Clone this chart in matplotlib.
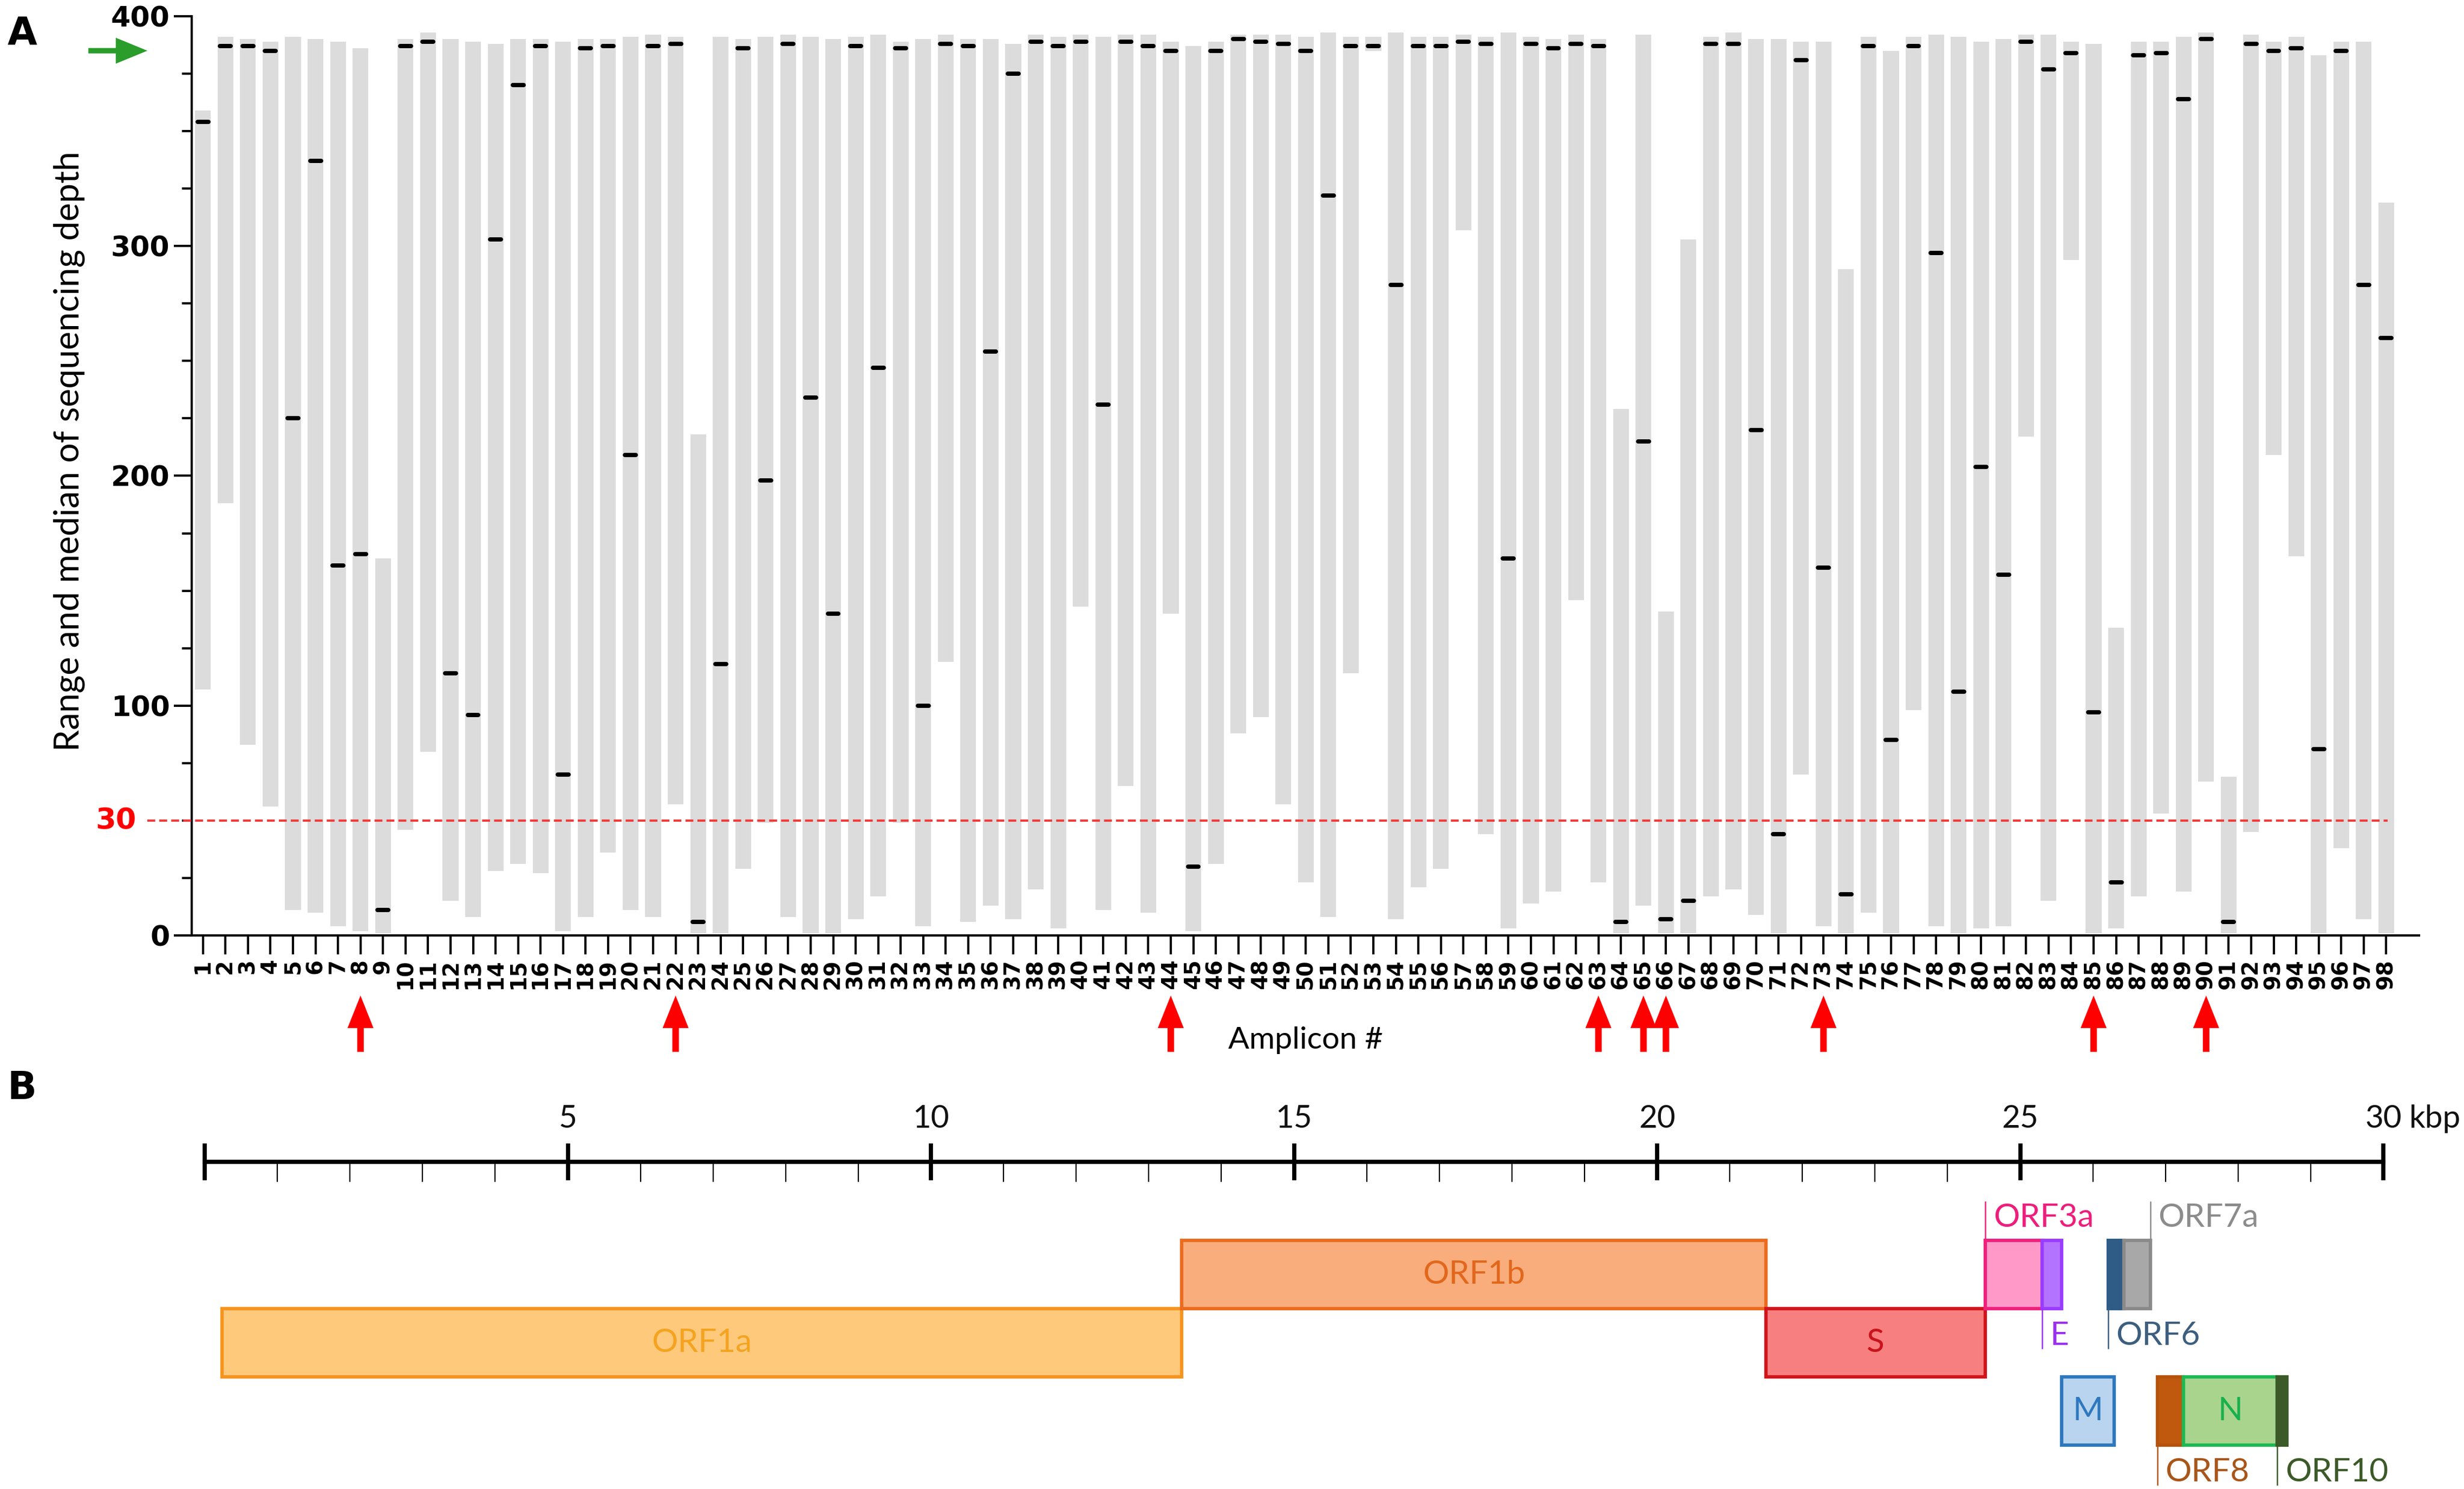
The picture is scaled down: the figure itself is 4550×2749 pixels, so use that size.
import matplotlib
matplotlib.use("Agg")
import matplotlib.pyplot as plt
from matplotlib.ticker import MultipleLocator

plt.rcParams["font.family"] = ["Lato", "DejaVu Sans"]

# ---- panel A data: sequencing depth per amplicon (range + median) ----
amplicons = list(range(1, 99))
depth_max = [359, 391, 390, 389, 391, 390, 389, 386, 164, 390,
             393, 390, 389, 388, 390, 390, 389, 390, 390, 391,
             392, 391, 218, 391, 390, 391, 392, 391, 390, 391,
             392, 389, 390, 392, 390, 390, 388, 392, 391, 392,
             391, 392, 392, 389, 387, 389, 392, 392, 392, 391,
             393, 391, 391, 393, 391, 391, 392, 391, 393, 391,
             390, 392, 390, 229, 392, 141, 303, 391, 393, 390,
             390, 389, 389, 290, 391, 385, 391, 392, 391, 389,
             390, 392, 392, 389, 388, 134, 389, 389, 391, 393,
             69, 392, 389, 391, 383, 389, 389, 319]
depth_min = [107, 188, 83, 56, 11, 10, 4, 2, 1, 46,
             80, 15, 8, 28, 31, 27, 2, 8, 36, 11,
             8, 57, 1, 1, 29, 49, 8, 1, 1, 7,
             17, 49, 4, 119, 6, 13, 7, 20, 3, 143,
             11, 65, 10, 140, 2, 31, 88, 95, 57, 23,
             8, 114, 385, 7, 21, 29, 307, 44, 3, 14,
             19, 146, 23, 1, 13, 1, 1, 17, 20, 9,
             1, 70, 4, 1, 10, 1, 98, 4, 1, 3,
             4, 217, 15, 294, 1, 3, 17, 53, 19, 67,
             1, 45, 209, 165, 1, 38, 7, 1]
depth_median = [354, 387, 387, 385, 225, 337, 161, 166, 11, 387,
                389, 114, 96, 303, 370, 387, 70, 386, 387, 209,
                387, 388, 6, 118, 386, 198, 388, 234, 140, 387,
                247, 386, 100, 388, 387, 254, 375, 389, 387, 389,
                231, 389, 387, 385, 30, 385, 390, 389, 388, 385,
                322, 387, 387, 283, 387, 387, 389, 388, 164, 388,
                386, 388, 387, 6, 215, 7, 15, 388, 388, 220,
                44, 381, 160, 18, 387, 85, 387, 297, 106, 204,
                157, 389, 377, 384, 97, 23, 383, 384, 364, 390,
                6, 388, 385, 386, 81, 385, 283, 260]
flagged_amplicons = [8, 22, 44, 63, 65, 66, 73, 85, 90]
cutoff_pos = 50
cutoff_label = "30"
full_depth = 385

# ---- panel B data: SARS-CoV-2 genome map (kbp) ----
genes = ["ORF1a", "ORF1b", "S", "ORF3a", "E", "ORF6", "ORF7a", "M", "ORF8", "N", "ORF10"]
gene_start = [0.24, 13.45, 21.5, 24.52, 25.3, 26.21, 26.43, 25.57, 26.89, 27.25, 28.54]
gene_end = [13.45, 21.5, 24.52, 25.3, 25.57, 26.43, 26.79, 26.29, 27.25, 28.54, 28.67]
gene_row = [1, 0, 1, 0, 0, 0, 0, 2, 2, 2, 2]
kbp_ticks = [0, 5, 10, 15, 20, 25, 30]
kbp_labels = ["", "5", "10", "15", "20", "25", "30"]

# fill, edge, text colour
gene_colors = {
    "ORF1a": ("#FFC97C", "#F7941D", "#F5A31F"),
    "ORF1b": ("#F9AD7C", "#EC6B1E", "#E2671C"),
    "S": ("#F77F7F", "#D2141C", "#C8141C"),
    "ORF3a": ("#FF9AC8", "#F0207E", "#EE1E7C"),
    "E": ("#B473FF", "#9A3CFF", "#9A30F0"),
    "ORF6": ("#2E5C86", "#2E5C86", "#3D5E7E"),
    "ORF7a": ("#A8A8A8", "#8A8A8A", "#8C8C8C"),
    "M": ("#B9D4EE", "#2E78BE", "#2E78BE"),
    "ORF8": ("#C0590E", "#B5530C", "#A8561A"),
    "N": ("#A8D48E", "#1DB954", "#17B04C"),
    "ORF10": ("#3C5A28", "#3C5A28", "#3C5A28"),
}
# where the small genes get their label: (above/below, which edge the leader line sits on)
outside_labels = {"ORF3a": ("up", "left"), "ORF7a": ("up", "right"),
                  "E": ("down", "left"), "ORF6": ("down", "left"),
                  "ORF8": ("down", "left"), "ORF10": ("down", "left")}

fig = plt.figure(figsize=(4550 / 300, 2749 / 300), dpi=300)

# ================= panel A =================
ax = fig.add_axes([0.0778, 0.37177, 0.90396, 0.61732])
heights = [hi - lo for hi, lo in zip(depth_max, depth_min)]
ax.bar(amplicons, heights, bottom=depth_min, width=0.7, color="#DCDCDC", linewidth=0)
ax.hlines(depth_median, [a - 0.24 for a in amplicons], [a + 0.24 for a in amplicons],
          colors="black", linewidth=1.9, capstyle="round", zorder=3)

ax.set_xlim(0.5, 99.46)
ax.set_ylim(0, 400)
ax.spines["top"].set_visible(False)
ax.spines["right"].set_visible(False)
ax.spines["left"].set_linewidth(1.0)
ax.spines["bottom"].set_linewidth(1.0)

ax.set_xticks(amplicons)
ax.set_xticklabels([str(a) for a in amplicons], rotation=90, fontsize=9.6,
                   fontweight="bold", family="DejaVu Sans")
ax.yaxis.set_major_locator(MultipleLocator(100))
ax.yaxis.set_minor_locator(MultipleLocator(25))
for lab in ax.get_yticklabels():
    lab.set_fontweight("bold")
    lab.set_family("DejaVu Sans")
    lab.set_fontsize(12.5)
ax.tick_params(axis="x", length=8.4, width=1.0, pad=2)
ax.tick_params(axis="y", which="major", length=8, width=1.0, pad=1.7)
ax.tick_params(axis="y", which="minor", length=4.3, width=1.0)

ax.set_ylabel("Range and median of sequencing depth", fontsize=15.4)
ax.yaxis.set_label_coords(-0.0479, 0.527)
ax.set_xlabel("Amplicon #", fontsize=13.8)
ax.xaxis.set_label_coords(0.5, -0.099)

# threshold line
ax.plot([-0.0199, 0.9859], [cutoff_pos, cutoff_pos], transform=ax.get_yaxis_transform(),
        color="#F03C3C", linewidth=1.0, linestyle=(0, (3.5, 1.8)), clip_on=False, zorder=4)
ax.text(-0.0248, cutoff_pos, cutoff_label, transform=ax.get_yaxis_transform(),
        ha="right", va="center", color="red", fontsize=13, fontweight="bold",
        family="DejaVu Sans")

# red arrows under flagged amplicons
for a in flagged_amplicons:
    ax.annotate("", xy=(a, -0.0654), xytext=(a, -0.1267),
                xycoords=("data", "axes fraction"), textcoords=("data", "axes fraction"),
                arrowprops=dict(facecolor="red", edgecolor="none", width=2.9,
                                headwidth=11.5, headlength=14.4, shrink=0),
                annotation_clip=False)

# green arrow at full depth
ax.annotate("", xy=(-0.0199, full_depth), xytext=(-0.0464, full_depth),
            xycoords=("axes fraction", "data"), textcoords=("axes fraction", "data"),
            arrowprops=dict(facecolor="#2A9D2A", edgecolor="none", width=2.4,
                            headwidth=11.5, headlength=14, shrink=0),
            annotation_clip=False)

fig.text(0.003, 0.9895, "A", fontsize=17, fontweight="bold", family="DejaVu Sans",
         ha="left", va="top")

# ================= panel B =================
axb = fig.add_axes([0.08308, 0.0, 0.88418, 0.27974])
axb.set_xlim(0, 30)
axb.set_ylim(3.643, -2.46)
scale_y = -1.151
for side in ["left", "right", "bottom"]:
    axb.spines[side].set_visible(False)
axb.spines["top"].set_position(("data", scale_y))
axb.spines["top"].set_linewidth(1.85)
axb.xaxis.set_ticks_position("top")
axb.set_yticks([])
axb.set_xticks(kbp_ticks)
axb.set_xticklabels(kbp_labels)
axb.xaxis.set_minor_locator(MultipleLocator(1))
axb.tick_params(axis="x", which="major", direction="inout", length=16.3, width=1.85,
                pad=4.5, labelsize=14, labelcolor="#111111")
axb.tick_params(axis="x", which="minor", direction="in", length=8.9, width=0.55)
axb.annotate("kbp", xy=(30, scale_y), xytext=(11.5, 8.15 + 4.5), textcoords="offset points",
             ha="left", va="bottom", fontsize=14, color="#111111")

for name, s, e, r in zip(genes, gene_start, gene_end, gene_row):
    fill, edge, tcol = gene_colors[name]
    axb.barh(r + 0.5, e - s, left=s, height=1.0, color=fill, edgecolor=edge, linewidth=1.5)
    if name in outside_labels:
        where, edge_side = outside_labels[name]
        lx = s if edge_side == "left" else e
        if where == "up":
            y0, y1, ty = r, r - 0.56, r - 0.33
        else:
            y0, y1, ty = r + 1, r + 1.58, r + 1.40
        axb.plot([lx, lx], [y0, y1], color=tcol, linewidth=0.6)
        axb.annotate(name, xy=(lx, ty), xytext=(3.5, 0), textcoords="offset points",
                     ha="left", va="center", fontsize=14.5, color=tcol)
    else:
        axb.text((s + e) / 2, r + 0.5, name, ha="center", va="center",
                 fontsize=14.5, color=tcol)

fig.text(0.003, 0.2815, "B", fontsize=17, fontweight="bold", family="DejaVu Sans",
         ha="left", va="top")

fig.savefig("out.png", dpi=300)
